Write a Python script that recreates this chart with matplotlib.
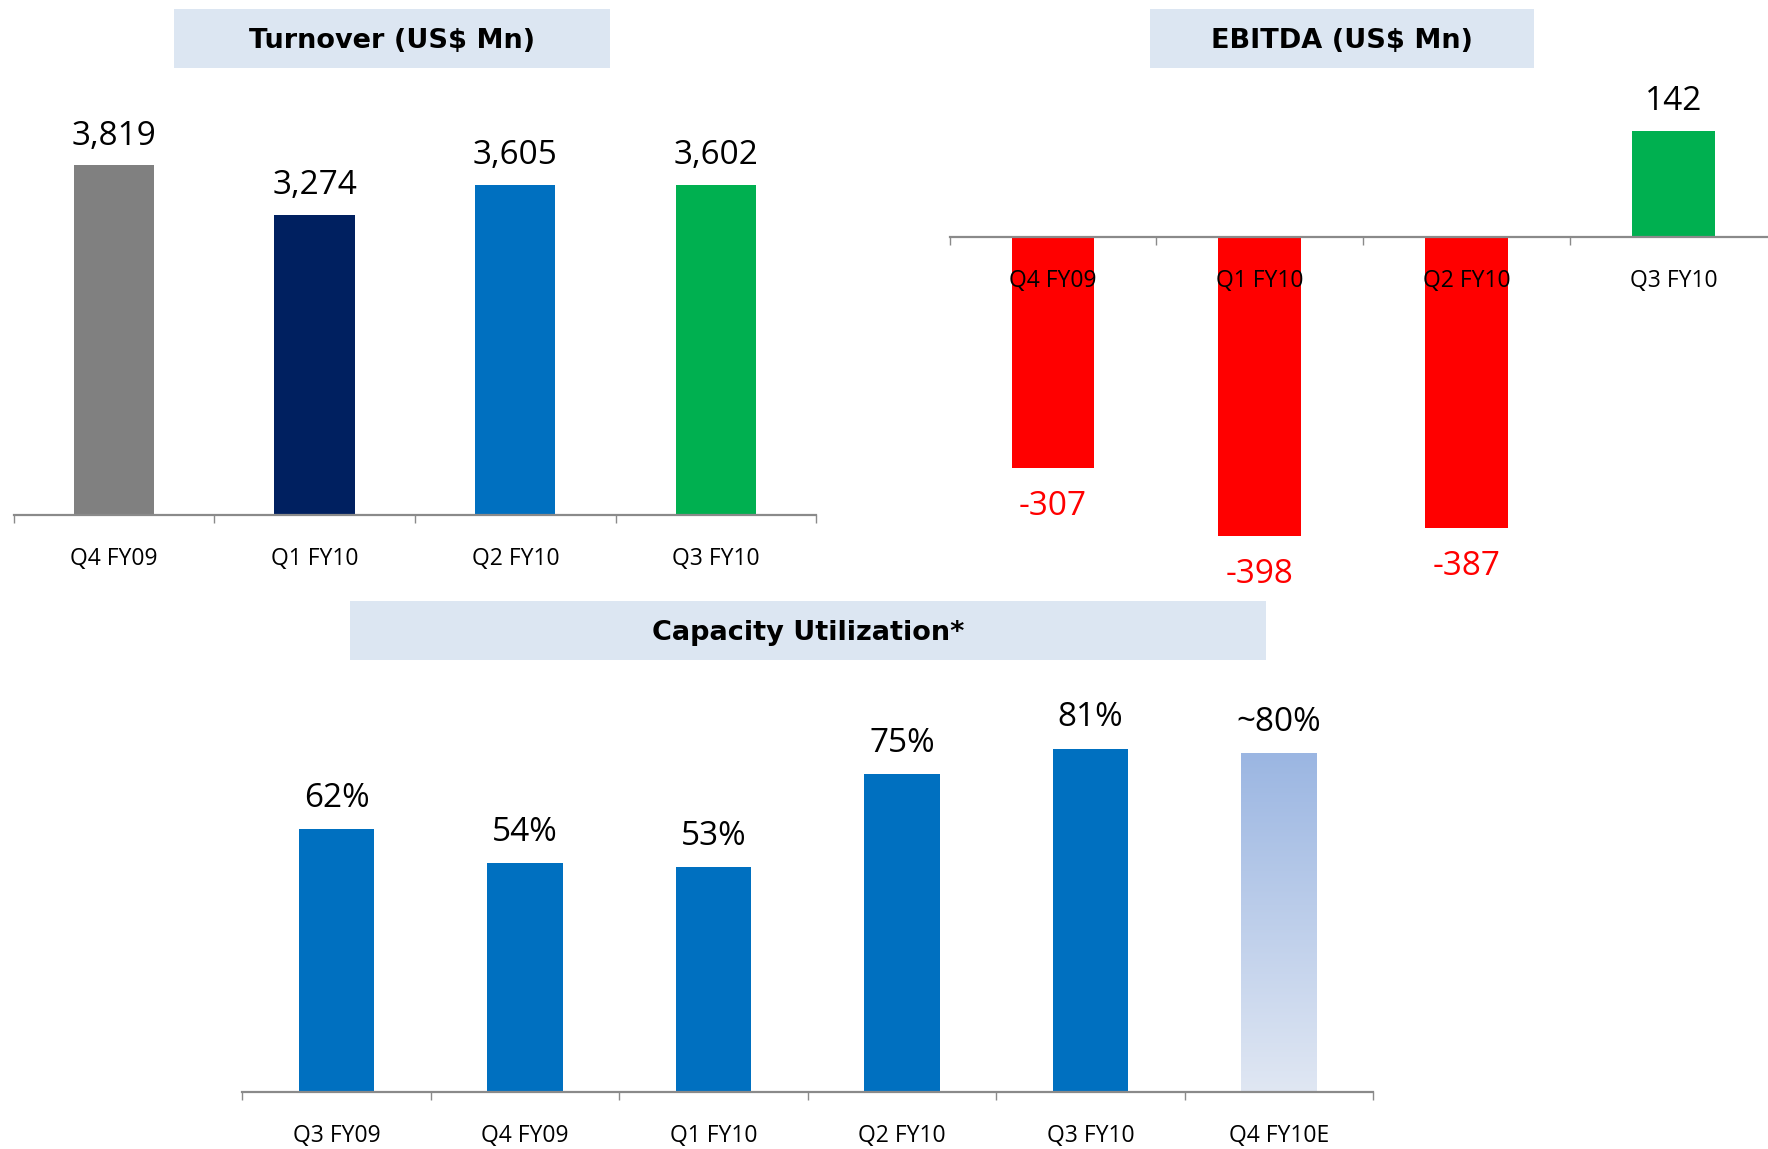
import numpy as np
import matplotlib
matplotlib.use('Agg')
import matplotlib.pyplot as plt
from matplotlib.patches import Rectangle
from matplotlib.colors import LinearSegmentedColormap

plt.rcParams['font.family'] = ['Open Sans', 'DejaVu Sans']

# data
turnover_cats = ['Q4 FY09', 'Q1 FY10', 'Q2 FY10', 'Q3 FY10']
turnover_vals = [3819, 3274, 3605, 3602]
turnover_lbls = ['3,819', '3,274', '3,605', '3,602']
turnover_cols = ['#808080', '#002060', '#0070c0', '#00b050']

ebitda_cats = ['Q4 FY09', 'Q1 FY10', 'Q2 FY10', 'Q3 FY10']
ebitda_vals = [-307, -398, -387, 142]

cap_cats = ['Q3 FY09', 'Q4 FY09', 'Q1 FY10', 'Q2 FY10', 'Q3 FY10', 'Q4 FY10E']
cap_vals = [62, 54, 53, 75, 81, 80]
cap_lbls = ['62%', '54%', '53%', '75%', '81%', '~80%']

W, H = 1768, 1149
fig = plt.figure(figsize=(W / 100, H / 100), dpi=100)

AXIS_COL = '#8a8a8a'
BOX_COL = '#dce6f2'


def px_axes(x0, x1, ytop, ybot):
    return fig.add_axes([x0 / W, 1 - ybot / H, (x1 - x0) / W, (ybot - ytop) / H])


def style(ax, cats):
    n = len(cats)
    ax.spines['bottom'].set_position(('data', 0))
    for s in ['left', 'right', 'top']:
        ax.spines[s].set_visible(False)
    ax.spines['bottom'].set_color(AXIS_COL)
    ax.spines['bottom'].set_linewidth(1.6)
    ax.set_yticks([])
    ax.set_xlim(-0.5, n - 0.5)
    ax.set_xticks(range(n))
    ax.set_xticklabels(cats, fontsize=16.5)
    ax.set_xticks(np.arange(n + 1) - 0.5, minor=True)
    ax.tick_params(axis='x', which='major', length=0, pad=23)
    ax.tick_params(axis='x', which='minor', length=6, width=1, color=AXIS_COL)
    ax.patch.set_alpha(0)


def title_box(x0, x1, y0, y1, text):
    fig.patches.append(Rectangle((x0 / W, 1 - y1 / H), (x1 - x0) / W, (y1 - y0) / H,
                                 transform=fig.transFigure, facecolor=BOX_COL,
                                 edgecolor='none', zorder=0))
    fig.text((x0 + x1) / 2 / W, 1 - ((y0 + y1) / 2 + 2) / H, text, ha='center', va='center',
             fontsize=19.5, fontweight='bold', family='DejaVu Sans')


# Turnover
ax1 = px_axes(13.5, 816.4, 84.7, 515)
ax1.bar(range(4), turnover_vals, width=0.4, color=turnover_cols)
ax1.set_ylim(0, 4700)
style(ax1, turnover_cats)
for i, v in enumerate(turnover_vals):
    ax1.annotate(turnover_lbls[i], (i, v), xytext=(0, 15), textcoords='offset points',
                 ha='center', va='baseline', fontsize=24)
title_box(174, 610, 9, 68, 'Turnover (US$ Mn)')

# EBITDA
ax2 = px_axes(949.5, 1777, 87.2, 575)
ecols = ['#ff0000' if v < 0 else '#00b050' for v in ebitda_vals]
ax2.bar(range(4), ebitda_vals, width=0.4, color=ecols)
ax2.set_ylim(-450, 200)
style(ax2, ebitda_cats)
for i, v in enumerate(ebitda_vals):
    if v < 0:
        ax2.annotate(str(v), (i, v), xytext=(0, -34), textcoords='offset points',
                     ha='center', va='baseline', fontsize=24, color='#ff0000')
    else:
        ax2.annotate(str(v), (i, v), xytext=(0, 15), textcoords='offset points',
                     ha='center', va='baseline', fontsize=24)
title_box(1150, 1534, 9, 68, 'EBITDA (US$ Mn)')

# Capacity utilization
ax3 = px_axes(242.4, 1373.4, 668, 1091.7)
bars = ax3.bar(range(6), cap_vals, width=0.4, color='#0070c0')
# last bar (estimate) drawn with a light gradient
last = bars[-1]
last.set_facecolor('none')
cmap = LinearSegmentedColormap.from_list('est', ['#e0e7f3', '#9bb6e2'])
grad = np.linspace(0, 1, 256).reshape(-1, 1)
bx = last.get_x()
im = ax3.imshow(grad, extent=[bx, bx + last.get_width(), 0, cap_vals[-1]],
                origin='lower', aspect='auto', cmap=cmap, zorder=1)
im.set_clip_path(last)
ax3.set_ylim(0, 100)
style(ax3, cap_cats)
for i, v in enumerate(cap_vals):
    ax3.annotate(cap_lbls[i], (i, v), xytext=(0, 16), textcoords='offset points',
                 ha='center', va='baseline', fontsize=24)
title_box(350, 1266, 601, 660, 'Capacity Utilization*')

fig.savefig('out.png', dpi=100)
